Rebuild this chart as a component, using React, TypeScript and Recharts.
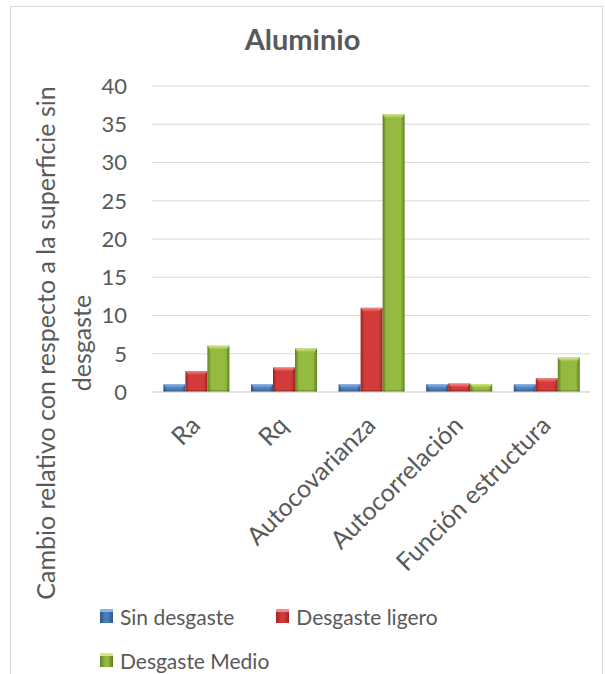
import React from "react"
import { BarChart, Bar, XAxis, YAxis, CartesianGrid, Legend, Label } from "recharts"

const categories = ["Ra", "Rq", "Autocovarianza", "Autocorrelación", "Función estructura"]
const sinDesgaste = [1, 1, 1, 1, 1]
const desgasteLigero = [2.75, 3.2, 11.0, 1.1, 1.8]
const desgasteMedio = [6.05, 5.7, 36.3, 1.05, 4.5]
const yTicks = [0, 5, 10, 15, 20, 25, 30, 35, 40]

const series = [
  { key: "sin", name: "Sin desgaste", base: "#4a7ebb", light: "#8fb4e3", dark: "#2c5687" },
  { key: "ligero", name: "Desgaste ligero", base: "#d33b3b", light: "#f08a88", dark: "#9c2424" },
  { key: "medio", name: "Desgaste Medio", base: "#94bb3f", light: "#cfe887", dark: "#5f7f22" },
]

const data = categories.map((name, i) => ({
  name,
  sin: sinDesgaste[i],
  ligero: desgasteLigero[i],
  medio: desgasteMedio[i],
}))

const FONT = "Lato, 'Open Sans', sans-serif"
const TEXT = "#595959"

// bevelled bar, like the old office chart style
const bevelShape = (key: string) => (props: any) => {
  const { x, y, width, height } = props
  if (!height || height <= 0) return <g />
  const b = Math.min(4, height / 2)
  return (
    <g>
      <rect x={x} y={y} width={width} height={height} fill={`url(#g-${key})`} />
      <polygon
        points={`${x},${y} ${x + width},${y} ${x + width - 3},${y + b} ${x + 3},${y + b}`}
        fill={`url(#t-${key})`}
      />
      <rect x={x} y={y + height - 2} width={width} height={2} fill="#000" opacity={0.18} />
    </g>
  )
}

const CategoryTick = (props: any) => {
  const { x, y, payload } = props
  const px = x + 6
  const py = y + 27
  return (
    <text
      x={px}
      y={py}
      transform={`rotate(-45, ${px}, ${py})`}
      textAnchor="end"
      fill={TEXT}
      fontSize={25}
      fontFamily={FONT}
    >
      {payload.value}
    </text>
  )
}

const YTitle = () => {
  const cx = 45
  const cy = 343
  return (
    <g fill={TEXT} fontSize={25} fontFamily={FONT}>
      <text x={cx} y={cy} transform={`rotate(-90, ${cx}, ${cy})`} textAnchor="middle" dominantBaseline="central">
        Cambio relativo con respecto a la superficie sin
      </text>
      <text x={cx + 36} y={cy} transform={`rotate(-90, ${cx + 36}, ${cy})`} textAnchor="middle" dominantBaseline="central">
        desgaste
      </text>
    </g>
  )
}

const LegendBox = () => (
  <div style={{ display: "flex", flexWrap: "wrap", width: 380, fontFamily: FONT, fontSize: 21, color: TEXT }}>
    {series.map((s) => (
      <div key={s.key} style={{ display: "flex", alignItems: "center", marginRight: 42, height: 44 }}>
        <span
          style={{
            display: "inline-block",
            width: 13,
            height: 14,
            marginRight: 7,
            background: `linear-gradient(to right, ${s.dark}, ${s.base} 40%, ${s.base} 60%, ${s.dark})`,
            borderTop: `3px solid ${s.light}`,
            boxSizing: "border-box",
          }}
        />
        <span>{s.name}</span>
      </div>
    ))}
  </div>
)

export default function App() {
  return (
    <div style={{ position: "absolute", left: 0, top: 0, width: 605, height: 674, background: "#fff", overflow: "hidden" }}>
      <div
        style={{
          position: "absolute",
          left: 10,
          top: 6,
          width: 593,
          height: 700,
          border: "1px solid #d9d9d9",
          boxSizing: "border-box",
        }}
      />
      <div
        style={{
          position: "absolute",
          left: 0,
          top: 21,
          width: 605,
          textAlign: "center",
          fontFamily: FONT,
          fontWeight: 700,
          fontSize: 29,
          color: TEXT,
        }}
      >
        Aluminio
      </div>
      <div style={{ position: "absolute", left: 0, top: 0 }}>
        <BarChart
          width={605}
          height={674}
          data={data}
          margin={{ top: 86, right: 15, left: 102, bottom: 200 }}
          barCategoryGap="13%"
          barGap={0}
        >
          <defs>
            {series.map((s) => (
              <React.Fragment key={s.key}>
                <linearGradient id={`g-${s.key}`} x1="0" y1="0" x2="1" y2="0">
                  <stop offset="0%" stopColor={s.dark} />
                  <stop offset="18%" stopColor={s.base} />
                  <stop offset="82%" stopColor={s.base} />
                  <stop offset="100%" stopColor={s.dark} />
                </linearGradient>
                <linearGradient id={`t-${s.key}`} x1="0" y1="0" x2="0" y2="1">
                  <stop offset="0%" stopColor={s.light} />
                  <stop offset="100%" stopColor={s.base} />
                </linearGradient>
              </React.Fragment>
            ))}
          </defs>
          <CartesianGrid vertical={false} stroke="#d9d9d9" strokeWidth={1} />
          <XAxis
            dataKey="name"
            height={82}
            axisLine={{ stroke: "#d9d9d9" }}
            tickLine={false}
            interval={0}
            tick={<CategoryTick />}
          />
          <YAxis
            width={50}
            domain={[0, 40]}
            ticks={yTicks}
            axisLine={false}
            tickLine={false}
            tickSize={0}
            tickMargin={25}
            tick={{ fill: TEXT, fontSize: 22, fontFamily: FONT }}
          >
            <Label content={<YTitle />} />
          </YAxis>
          <Legend
            verticalAlign="middle"
            align="center"
            layout="horizontal"
            wrapperStyle={{ top: 594, left: 100, width: 380 }}
            content={<LegendBox />}
          />
          {series.map((s) => (
            <Bar
              key={s.key}
              dataKey={s.key}
              name={s.name}
              fill={s.base}
              shape={bevelShape(s.key)}
              isAnimationActive={false}
            />
          ))}
        </BarChart>
      </div>
    </div>
  )
}
